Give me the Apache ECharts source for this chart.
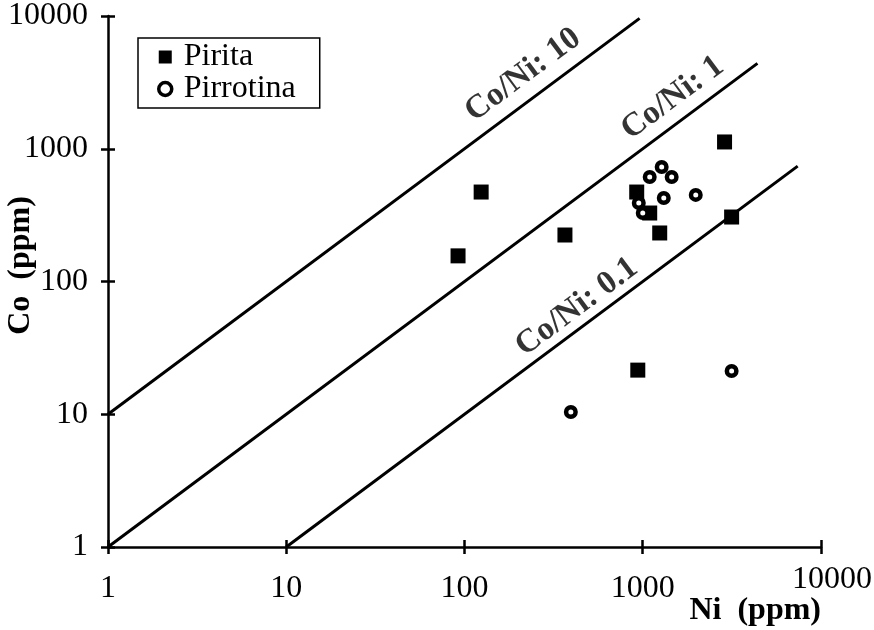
<!DOCTYPE html>
<html>
<head>
<meta charset="utf-8">
<script src="https://cdn.jsdelivr.net/npm/echarts@6/dist/echarts.min.js"></script>
<style>html,body{margin:0;padding:0;background:#fff;}#c{width:874px;height:630px;}</style>
</head>
<body>
<div id="c"></div>
<script>
// Data
const piritaNi = [92, 124, 366, 925, 1094, 1245, 2877, 3152, 938];
const piritaCo = [156, 472, 224, 472, 328, 232, 1125, 306, 21.5];
const pirrotinaNi = [1277, 1094, 1453, 1312, 1983, 950, 1000, 3152, 395];
const pirrotinaCo = [728, 612, 612, 426, 449, 390, 328, 21.2, 10.4];
// Co/Ni reference lines: ratio, start Ni, end Ni
const ratioValues = [10, 1, 0.1];
const ratioStartNi = [1, 1, 10];
const ratioEndNi = [960, 4400, 7400];
const ratioLabels = ['Co/Ni: 10', 'Co/Ni: 1', 'Co/Ni: 0.1'];
const ratioLabelNi = [213, 1472, 427];
const ratioLabelCo = [3595, 2411, 64.3];
const tickValues = [1, 10, 100, 1000, 10000];
const tickLabels = ['1', '10', '100', '1000', '10000'];

const FONT = '"Liberation Serif", "Times New Roman", serif';
const pts = (xs, ys) => xs.map((x, i) => [x, ys[i]]);

const lineSeries = ratioValues.map((r, i) => ({
  type: 'line',
  name: ratioLabels[i],
  data: [[ratioStartNi[i], ratioStartNi[i] * r], [ratioEndNi[i], ratioEndNi[i] * r]],
  symbol: 'none',
  lineStyle: { color: '#000', width: 3 },
  silent: true,
  z: 1
}));

const labelFor = v => {
  const i = tickValues.indexOf(v);
  return i >= 0 ? tickLabels[i] : '';
};

const squareStyle = { color: '#000', opacity: 1 };
const circleStyle = { color: '#fff', borderColor: '#000', borderWidth: 4.5, opacity: 1 };

const chart = echarts.init(document.getElementById('c'), null, { renderer: 'canvas' });
chart.setOption({
  animation: false,
  backgroundColor: '#fff',
  grid: { left: 108, right: 53, top: 16, bottom: 83, containLabel: false, outerBoundsMode: 'none' },
  legend: {
    left: 138, top: 38,
    orient: 'vertical',
    data: [
      { name: 'Pirita', icon: 'rect', itemStyle: { color: '#000', opacity: 1 } },
      { name: 'Pirrotina', icon: 'circle', itemStyle: { color: '#fff', borderColor: '#000', borderWidth: 3.5, opacity: 1 } }
    ],
    borderColor: '#000', borderWidth: 1.5, borderRadius: 0,
    padding: [3, 24, 3, 19],
    itemGap: 0,
    itemWidth: 13, itemHeight: 13,
    textStyle: { fontFamily: FONT, fontSize: 32, color: '#000', padding: [0, 0, 0, 7] }
  },
  xAxis: [{
    type: 'log', logBase: 10, min: 1, max: 10000,
    position: 'bottom',
    axisLine: { lineStyle: { color: '#000', width: 2.5 } },
    axisTick: { length: 7, lineStyle: { color: '#000', width: 2.5 } },
    splitLine: { show: false },
    axisLabel: {
      margin: 17,
      fontFamily: FONT, fontSize: 32, color: '#000',
      formatter: v => v === 10000 ? '{h|' + labelFor(v) + '}' : '{n|' + labelFor(v) + '}',
      rich: {
        n: { fontFamily: FONT, fontSize: 32, color: '#000', padding: [9, 0, 0, 0] },
        h: { fontFamily: FONT, fontSize: 32, color: '#000', padding: [0, 0, 0, 22] }
      }
    },
    name: 'Ni  (ppm)',
    nameLocation: 'end',
    nameGap: 0,
    nameMoveOverlap: false,
    nameTextStyle: {
      fontFamily: FONT, fontSize: 32, fontWeight: 'bold', color: '#000',
      align: 'right', verticalAlign: 'top', padding: [48, 0, 0, 0]
    }
  }, {
    type: 'log', logBase: 10, min: 1, max: 10000,
    position: 'bottom',
    axisLine: { show: false },
    axisTick: { inside: true, length: 7, lineStyle: { color: '#000', width: 2.5 } },
    axisLabel: { show: false },
    splitLine: { show: false }
  }],
  yAxis: [{
    type: 'log', logBase: 10, min: 1, max: 10000,
    position: 'left',
    axisLine: { lineStyle: { color: '#000', width: 2.5 } },
    axisTick: { length: 7, lineStyle: { color: '#000', width: 2.5 } },
    splitLine: { show: false },
    axisLabel: {
      margin: 20,
      fontFamily: FONT, fontSize: 32, color: '#000',
      formatter: labelFor
    },
    name: 'Co  (ppm)',
    nameLocation: 'middle',
    nameGap: 71,
    nameRotate: 90,
    nameMoveOverlap: false,
    nameTextStyle: {
      fontFamily: FONT, fontSize: 32, fontWeight: 'bold', color: '#000',
      padding: [0, 0, 0, 32]
    }
  }, {
    type: 'log', logBase: 10, min: 1, max: 10000,
    position: 'left',
    axisLine: { show: false },
    axisTick: { inside: true, length: 7, lineStyle: { color: '#000', width: 2.5 } },
    axisLabel: { show: false },
    splitLine: { show: false }
  }],
  series: [
    ...lineSeries,
    {
      type: 'scatter',
      name: 'ratioLabels',
      data: ratioLabels.map((t, i) => ({ name: t, value: [ratioLabelNi[i], ratioLabelCo[i]] })),
      symbolSize: 1,
      itemStyle: { color: 'rgba(0,0,0,0)' },
      silent: true,
      label: {
        show: true,
        position: 'inside',
        formatter: p => p.name,
        rotate: 36.6,
        fontFamily: FONT, fontSize: 33, fontWeight: 'bold', color: '#000'
      },
      z: 2
    },
    {
      type: 'scatter',
      name: 'Pirita',
      data: pts(piritaNi, piritaCo),
      symbol: 'rect',
      symbolSize: 15,
      itemStyle: squareStyle,
      z: 3
    },
    {
      type: 'scatter',
      name: 'Pirrotina',
      data: pts(pirrotinaNi, pirrotinaCo),
      symbol: 'circle',
      symbolSize: 9.5,
      itemStyle: circleStyle,
      z: 4
    }
  ]
});
</script>
</body>
</html>
